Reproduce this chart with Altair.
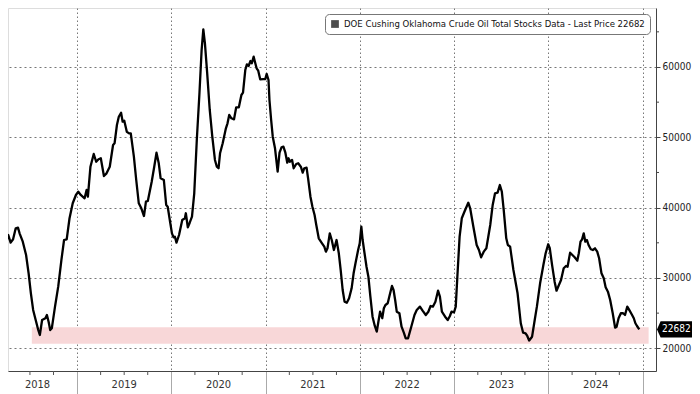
import altair as alt
import pandas as pd

# ---- data (fractional year, stocks in barrels) ----
t_years = [
    2018.185, 2018.213, 2018.236, 2018.254, 2018.270, 2018.295, 2018.321, 2018.349, 2018.373, 2018.390,
    2018.424, 2018.459, 2018.486, 2018.510, 2018.534, 2018.561, 2018.588, 2018.605, 2018.629, 2018.664,
    2018.680, 2018.698, 2018.715, 2018.732, 2018.766, 2018.800, 2018.834, 2018.862, 2018.890, 2018.920,
    2018.954, 2018.988, 2019.013, 2019.039, 2019.080, 2019.101, 2019.115, 2019.142, 2019.177, 2019.203,
    2019.228, 2019.252, 2019.285, 2019.313, 2019.347, 2019.382, 2019.398, 2019.423, 2019.443, 2019.467,
    2019.484, 2019.501, 2019.528, 2019.552, 2019.570, 2019.603, 2019.628, 2019.655, 2019.682, 2019.710,
    2019.731, 2019.751, 2019.792, 2019.819, 2019.843, 2019.867, 2019.887, 2019.921, 2019.946, 2019.962,
    2019.987, 2020.007, 2020.024, 2020.038, 2020.055, 2020.082, 2020.116, 2020.144, 2020.154, 2020.175,
    2020.195, 2020.219, 2020.243, 2020.270, 2020.298, 2020.321, 2020.339, 2020.356, 2020.380, 2020.407,
    2020.434, 2020.462, 2020.482, 2020.500, 2020.516, 2020.544, 2020.578, 2020.595, 2020.613, 2020.636,
    2020.664, 2020.687, 2020.715, 2020.742, 2020.759, 2020.783, 2020.800, 2020.818, 2020.838, 2020.852,
    2020.872, 2020.885, 2020.903, 2020.920, 2020.941, 2020.972, 2020.995, 2021.009, 2021.029, 2021.039,
    2021.057, 2021.074, 2021.098, 2021.126, 2021.146, 2021.167, 2021.187, 2021.208, 2021.228, 2021.241,
    2021.255, 2021.279, 2021.296, 2021.323, 2021.344, 2021.372, 2021.392, 2021.408, 2021.433, 2021.449,
    2021.474, 2021.495, 2021.518, 2021.536, 2021.562, 2021.597, 2021.621, 2021.638, 2021.655, 2021.679,
    2021.700, 2021.723, 2021.751, 2021.775, 2021.795, 2021.816, 2021.836, 2021.860, 2021.884, 2021.911,
    2021.932, 2021.952, 2021.980, 2021.997, 2022.014, 2022.028, 2022.048, 2022.069, 2022.089, 2022.110,
    2022.133, 2022.157, 2022.178, 2022.195, 2022.213, 2022.236, 2022.253, 2022.270, 2022.294, 2022.315,
    2022.339, 2022.356, 2022.373, 2022.390, 2022.418, 2022.441, 2022.465, 2022.485, 2022.510, 2022.544,
    2022.578, 2022.602, 2022.636, 2022.664, 2022.698, 2022.725, 2022.749, 2022.773, 2022.800, 2022.828,
    2022.848, 2022.869, 2022.903, 2022.931, 2022.954, 2022.971, 2022.998, 2023.016, 2023.033, 2023.057,
    2023.080, 2023.108, 2023.149, 2023.169, 2023.203, 2023.238, 2023.262, 2023.285, 2023.313, 2023.341,
    2023.382, 2023.408, 2023.433, 2023.460, 2023.484, 2023.505, 2023.525, 2023.552, 2023.569, 2023.593,
    2023.628, 2023.672, 2023.706, 2023.731, 2023.757, 2023.775, 2023.795, 2023.826, 2023.854, 2023.877,
    2023.911, 2023.946, 2023.970, 2023.997, 2024.014, 2024.038, 2024.065, 2024.085, 2024.106, 2024.133,
    2024.161, 2024.185, 2024.202, 2024.229, 2024.253, 2024.277, 2024.305, 2024.321, 2024.339, 2024.356,
    2024.373, 2024.390, 2024.407, 2024.424, 2024.448, 2024.469, 2024.492, 2024.516, 2024.536, 2024.561,
    2024.585, 2024.605, 2024.629, 2024.653, 2024.680, 2024.705, 2024.721, 2024.742, 2024.766, 2024.790,
    2024.810, 2024.834, 2024.859, 2024.885, 2024.903, 2024.920, 2024.937, 2024.961,
]
stocks = [
    28290, 29000, 31130, 35400, 36110, 35020, 35500, 37060, 37150, 36350,
    35160, 33270, 30660, 27820, 25450, 24020, 22600, 21890, 24020, 24270,
    24740, 23780, 22600, 22840, 25920, 28760, 32560, 35400, 35500, 38490,
    40620, 41800, 42270, 41800, 41330, 42510, 41560, 45820, 47630, 46530,
    46880, 47020, 44500, 44880, 45820, 48910, 49150, 51750, 52930, 53500,
    52220, 52360, 50800, 50570, 50570, 47250, 43930, 40620, 39910, 38810,
    40850, 40950, 43690, 45820, 47810, 46310, 44170, 43930, 40380, 40130,
    38000, 36350, 35780, 35870, 35020, 36110, 38240, 38490, 39200, 37210,
    37860, 38710, 42040, 49620, 56260, 62420, 65360, 63370, 59100, 53890,
    50090, 46780, 45820, 45600, 47730, 49150, 51280, 51990, 53180, 52710,
    52560, 54270, 54270, 56020, 56350, 59570, 60380, 60140, 60850, 60530,
    61470, 60750, 59820, 59470, 58250, 58290, 58290, 59010, 58150, 55310,
    52460, 50090, 48440, 45110, 47810, 48580, 48670, 47810, 46390, 47020,
    46530, 46780, 45600, 46210, 46310, 45820, 44970, 45600, 45680, 44170,
    41560, 40130, 38960, 37530, 35640, 34930, 34450, 33740, 34220, 36350,
    35400, 33980, 35400, 33510, 31130, 28290, 26630, 26480, 27110, 28530,
    30660, 32090, 33980, 34930, 37290, 35400, 33510, 31600, 30180, 27340,
    24490, 23170, 22360, 23780, 25200, 24270, 25690, 26160, 26400, 27580,
    28860, 28290, 26870, 25200, 24980, 23070, 22220, 21420, 21420, 23070,
    24740, 25450, 25920, 25350, 24740, 25200, 26010, 25920, 26630, 28190,
    27340, 25200, 24490, 24020, 24590, 25200, 25120, 25920, 30180, 35870,
    38490, 39420, 40700, 39910, 37290, 34690, 33980, 32940, 33740, 34220,
    37530, 40380, 42040, 42130, 43220, 42270, 39670, 35640, 34690, 34450,
    31130, 27820, 23560, 22220, 22130, 21750, 21110, 21650, 24020, 25920,
    29240, 31850, 33510, 34790, 34220, 31850, 29470, 28190, 28860, 29710,
    31380, 31700, 31600, 33590, 33270, 32940, 32460, 33510, 35160, 35500,
    36350, 35160, 35400, 34690, 34080, 33980, 34220, 33740, 32800, 30660,
    29950, 28670, 28050, 26870, 24980, 22930, 23070, 24270, 24980, 24980,
    24740, 25920, 25350, 24740, 24270, 23560, 23170, 22682,
]
series_name = "DOE Cushing Oklahoma Crude Oil Total Stocks Data - Last Price 22682"
last_price = 22682

band_start, band_end = 2018.52, 2025.06
band_low, band_high = 20650, 23000

year_labels = ["2018", "2019", "2020", "2021", "2022", "2023", "2024"]
year_label_pos = [2018.58, 2019.5, 2020.5, 2021.5, 2022.5, 2023.5, 2024.5]
year_bounds = [2019, 2020, 2021, 2022, 2023, 2024, 2025]
y_major = [20000, 30000, 40000, 50000, 60000]
y_minor = [25000, 35000, 45000, 55000, 65000]


def to_date(t):
    y = int(t)
    s = pd.Timestamp(year=y, month=1, day=1)
    e = pd.Timestamp(year=y + 1, month=1, day=1)
    return s + (e - s) * (t - y)


W, H = 648, 363
FONT = "Liberation Sans Narrow, DejaVu Sans Condensed, Liberation Sans, sans-serif"

df = pd.DataFrame({"date": [to_date(t) for t in t_years], "value": stocks})
band_df = pd.DataFrame({"date": [to_date(band_start)], "d2": [to_date(band_end)],
                        "value": [band_low], "hi": [band_high]})
lab_df = pd.DataFrame({"date": [to_date(t) for t in year_label_pos], "label": year_labels})
qt = [to_date(y + q) for y in range(2018, 2025) for q in (0.25, 0.5, 0.75)]
qt_df = pd.DataFrame({"date": qt})
minor_df = pd.DataFrame({"value": y_minor})
last_df = pd.DataFrame({"value": [last_price], "label": [str(last_price)]})
leg_df = pd.DataFrame({"date": [to_date(2016.5)], "value": [40000], "series": [series_name]})

xscale = alt.Scale(domain=[alt.DateTime(year=2018, month=4, date=8, hours=12),
                           alt.DateTime(year=2025, month=2, date=20, hours=12)])
yscale = alt.Scale(domain=[16770, 68390], nice=False, zero=False)

x_axis = alt.Axis(values=[alt.DateTime(year=y, month=1, date=1) for y in year_bounds],
                  labels=False, title=None, grid=True, gridDash=[1.5, 2.5], gridColor="#777",
                  gridWidth=1, tickSize=23, tickColor="#aaa", domainColor="#444")
y_axis = alt.Axis(orient="right", values=y_major, format="d", title=None, grid=True,
                  gridDash=[2, 3], gridColor="#777", gridWidth=1, tickSize=4, tickColor="#444",
                  domainColor="#444", labelPadding=2, labelFontSize=10, labelFont=FONT,
                  labelColor="#222")

X = alt.X("date:T", scale=xscale, axis=x_axis)
Y = alt.Y("value:Q", scale=yscale, axis=y_axis)

band = alt.Chart(band_df).mark_rect(color="#f8d7d8").encode(
    x=X, x2="d2:T", y=Y, y2="hi:Q")

line = alt.Chart(df).mark_line(color="black", strokeWidth=2.3, clip=True,
                               strokeJoin="round").encode(x=X, y=Y)

legend_layer = alt.Chart(leg_df).mark_square(clip=True, filled=True).encode(
    x=X, y=Y,
    color=alt.Color("series:N", scale=alt.Scale(range=["black"]),
                    legend=alt.Legend(orient="top-right", offset=6, title=None,
                                      symbolType="square", symbolSize=60,
                                      labelFontSize=9.5, labelFont=FONT, labelLimit=600,
                                      labelColor="#111", strokeColor="#777",
                                      cornerRadius=4, padding=5, fillColor="white",
                                      labelOffset=4)))

qticks = alt.Chart(qt_df).mark_rule(color="#555").encode(
    x=X, y=alt.value(H), y2=alt.value(H + 4))

ylabels = alt.Chart(lab_df).mark_text(fontSize=11, font=FONT, color="#333",
                                      baseline="middle").encode(
    x=X, y=alt.value(H + 14), text="label:N")

minor = alt.Chart(minor_df).mark_rule(color="#444").encode(
    y=Y, x=alt.value(W), x2=alt.value(W + 3))

tag = alt.Chart(last_df).mark_point(
    shape="M -1 0 L -0.8 -0.45 L 1 -0.45 L 1 0.45 L -0.8 0.45 Z",
    filled=True, color="black", opacity=1, size=1296).encode(
    y=Y, x=alt.value(W + 19))

tag_text = alt.Chart(last_df).mark_text(color="white", fontSize=10, font=FONT,
                                        align="left", baseline="middle").encode(
    y=Y, x=alt.value(W + 6), text="label:N")

chart = alt.layer(band, line, legend_layer, qticks, ylabels, minor, tag, tag_text).properties(
    width=W, height=H,
    autosize=alt.AutoSizeParams(type="none"),
    padding={"left": 0, "top": 0, "right": 36, "bottom": 31}
).configure_view(stroke=None).configure(background="white")

chart.save("out.html", embed_options={"renderer": "svg", "actions": False})
